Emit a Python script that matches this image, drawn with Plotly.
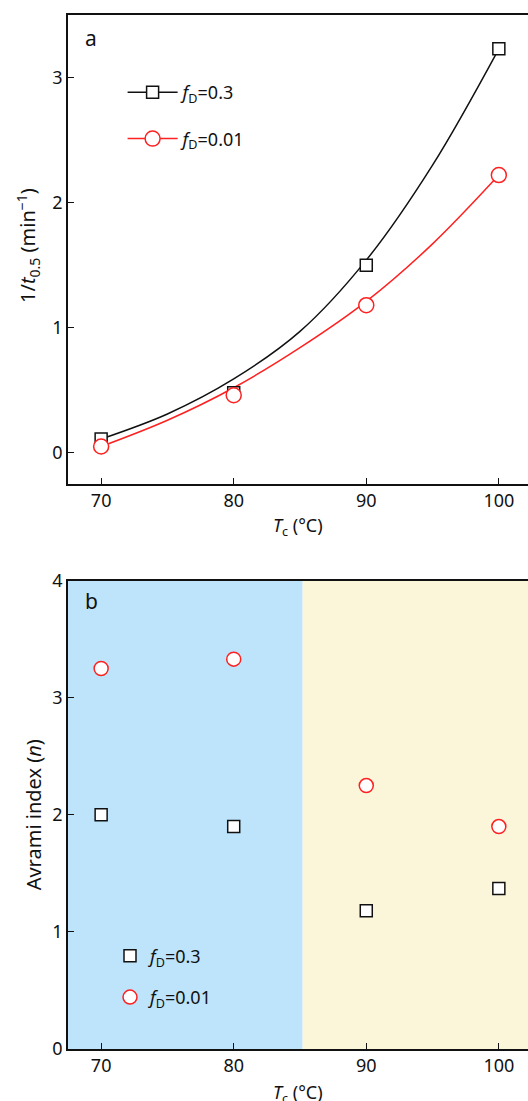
import plotly.graph_objects as go

# Crystallization temperatures (°C)
temps = [70, 80, 90, 100]

# Panel a: inverse half-time of crystallization, 1/t0.5 (min^-1)
rate_fd03 = [0.11, 0.48, 1.50, 3.23]
rate_fd001 = [0.05, 0.46, 1.18, 2.22]

# Panel a: smooth fitted trend through the rate data
fit_temps = [70, 75, 80, 85, 90, 95, 100]
fit_fd03 = [0.11, 0.31, 0.59, 0.97, 1.54, 2.30, 3.23]
fit_fd001 = [0.05, 0.26, 0.52, 0.84, 1.21, 1.67, 2.22]

# Panel b: Avrami index n
avrami_fd03 = [2.00, 1.90, 1.18, 1.37]
avrami_fd001 = [3.25, 3.33, 2.25, 1.90]

# Temperature separating the two shaded regimes in panel b
regime_split = 85.2

label_03 = "<i>f</i><sub>D</sub>=0.3"
label_001 = "<i>f</i><sub>D</sub>=0.01"

FONT = "Noto Sans"
BLACK = "#111111"
RED = "#ff2020"

fig = go.Figure()

# ---- panel a ----
fig.add_trace(go.Scatter(x=fit_temps, y=fit_fd03, mode="lines", line=dict(color=BLACK, width=1.5, shape="spline"),
                         xaxis="x", yaxis="y", showlegend=False, hoverinfo="skip"))
fig.add_trace(go.Scatter(x=fit_temps, y=fit_fd001, mode="lines", line=dict(color=RED, width=1.5, shape="spline"),
                         xaxis="x", yaxis="y", showlegend=False, hoverinfo="skip"))
fig.add_trace(go.Scatter(x=temps, y=rate_fd03, mode="markers",
                         marker=dict(symbol="square", size=12, color="white", line=dict(color=BLACK, width=1.5)),
                         xaxis="x", yaxis="y", showlegend=False))
fig.add_trace(go.Scatter(x=temps, y=rate_fd001, mode="markers",
                         marker=dict(symbol="circle", size=15, color="white", line=dict(color=RED, width=1.5)),
                         xaxis="x", yaxis="y", showlegend=False))
# legend entries for panel a (line + marker)
fig.add_trace(go.Scatter(x=[None], y=[None], mode="lines+markers", name=label_03,
                         line=dict(color=BLACK, width=1.5),
                         marker=dict(symbol="square", size=12, color="white", line=dict(color=BLACK, width=1.5)),
                         xaxis="x", yaxis="y", legend="legend", legendgroup="a1"))
fig.add_trace(go.Scatter(x=[None], y=[None], mode="lines+markers", name=label_001,
                         line=dict(color=RED, width=1.5),
                         marker=dict(symbol="circle", size=15, color="white", line=dict(color=RED, width=1.5)),
                         xaxis="x", yaxis="y", legend="legend", legendgroup="a2"))

# ---- panel b ----
fig.add_trace(go.Scatter(x=temps, y=avrami_fd03, mode="markers", name=label_03,
                         marker=dict(symbol="square", size=12, color="white", line=dict(color=BLACK, width=1.5)),
                         xaxis="x2", yaxis="y2", legend="legend2", legendgroup="b1"))
fig.add_trace(go.Scatter(x=temps, y=avrami_fd001, mode="markers", name=label_001,
                         marker=dict(symbol="circle", size=14, color="white", line=dict(color=RED, width=1.5)),
                         xaxis="x2", yaxis="y2", legend="legend2", legendgroup="b2"))

x_range = [67.5, 102.2]
axis_common = dict(showline=True, linecolor=BLACK, linewidth=1.5, ticks="inside", ticklen=6,
                   tickwidth=1.2, tickcolor=BLACK, showgrid=False, zeroline=False,
                   tickfont=dict(family=FONT, size=18, color=BLACK))

fig.update_layout(
    width=528, height=1101,
    margin=dict(l=68, r=0, t=15, b=52),
    paper_bgcolor="white", plot_bgcolor="white",
    font=dict(family=FONT, size=18, color=BLACK),
    xaxis=dict(domain=[0, 1], range=x_range, anchor="y", tickvals=temps, mirror=True, **axis_common),
    yaxis=dict(domain=[0.5464, 1], range=[-0.25, 3.5], anchor="x", tickvals=[0, 1, 2, 3], **axis_common),
    xaxis2=dict(domain=[0, 1], range=x_range, anchor="y2", tickvals=temps, mirror=True, **axis_common),
    yaxis2=dict(domain=[0, 0.4529], range=[0, 4], anchor="x2", tickvals=[0, 1, 2, 3, 4], **axis_common),
    legend=dict(x=0.1187, y=0.9028, xanchor="left", yanchor="middle", bgcolor="rgba(0,0,0,0)",
                font=dict(family=FONT, size=18, color=BLACK), tracegroupgap=20, traceorder="grouped",
                itemwidth=50),
    legend2=dict(x=0.0913, y=0.0701, xanchor="left", yanchor="middle", bgcolor="rgba(0,0,0,0)",
                 font=dict(family=FONT, size=18, color=BLACK), tracegroupgap=15, traceorder="grouped",
                 itemwidth=30),
    shapes=[
        dict(type="rect", xref="x2", yref="y2 domain", x0=x_range[0], x1=regime_split, y0=0, y1=1,
             fillcolor="#bde4fb", line=dict(width=0), layer="below"),
        dict(type="rect", xref="x2", yref="y2 domain", x0=regime_split, x1=x_range[1], y0=0, y1=1,
             fillcolor="#fbf6da", line=dict(width=0), layer="below"),
    ],
    annotations=[
        dict(text="a", xref="paper", yref="paper", x=0.0326, y=0.9778, xanchor="left", yanchor="middle",
             showarrow=False, font=dict(family=FONT, size=21, color=BLACK)),
        dict(text="b", xref="paper", yref="paper", x=0.0326, y=0.4333, xanchor="left", yanchor="middle",
             showarrow=False, font=dict(family=FONT, size=21, color=BLACK)),
        dict(text="<i>T</i><sub>c</sub> (°C)", xref="paper", yref="paper", x=0.5, y=0.5464, yshift=-42,
             xanchor="center", yanchor="middle", showarrow=False, font=dict(family=FONT, size=18, color=BLACK)),
        dict(text="<i>T</i><sub>c</sub> (°C)", xref="paper", yref="paper", x=0.5, y=0, yshift=-44,
             xanchor="center", yanchor="middle", showarrow=False, font=dict(family=FONT, size=18, color=BLACK)),
        dict(text="1/<i>t</i><sub>0.5</sub> (min<sup>−1</sup>)", xref="paper", yref="paper", x=0, xshift=-40,
             y=0.7766, xanchor="center", yanchor="middle", textangle=-90, showarrow=False,
             font=dict(family=FONT, size=20, color=BLACK)),
        dict(text="Avrami index (<i>n</i>)", xref="paper", yref="paper", x=0, xshift=-35,
             y=0.226, xanchor="center", yanchor="middle", textangle=-90, showarrow=False,
             font=dict(family=FONT, size=20, color=BLACK)),
    ],
)

fig.write_html("out.html")
